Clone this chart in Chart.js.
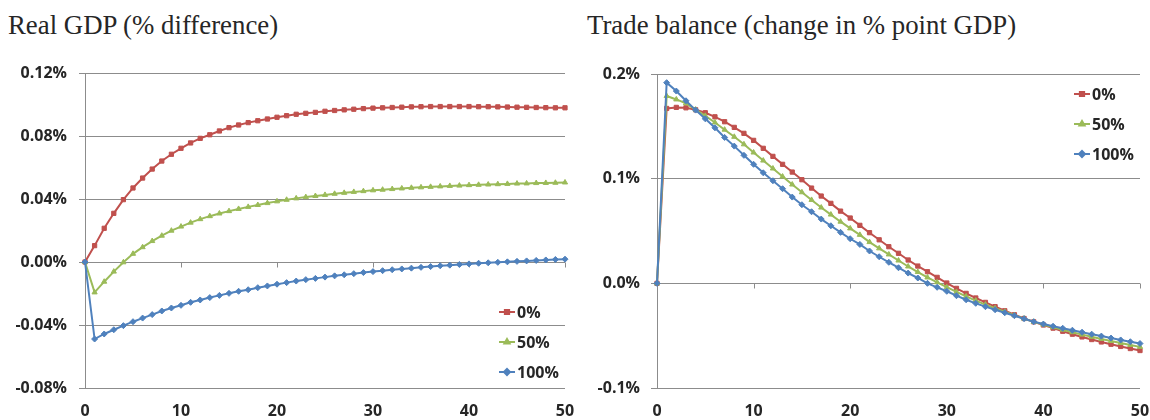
<!DOCTYPE html>
<html>
<head>
<meta charset="utf-8">
<script src="https://cdn.jsdelivr.net/npm/chart.js@4"></script>
<style>
  html, body { margin: 0; padding: 0; background: #fff; }
  body { width: 1150px; height: 420px; position: relative; overflow: hidden; }
  .title {
    position: absolute; top: 12px;
    font: 26.8px/27px "Liberation Serif", "Times New Roman", serif;
    color: #262626; white-space: nowrap;
  }
  canvas { position: absolute; top: 55px; }
</style>
</head>
<body>
<div class="title" style="left:8px">Real GDP (% difference)</div>
<div class="title" style="left:587px">Trade balance (change in % point GDP)</div>
<canvas id="gdp-chart" width="575" height="365" style="left:0"></canvas>
<canvas id="trade-chart" width="575" height="365" style="left:575px"></canvas>
<script>
/* ── Data ── */
const PERIODS = [0, 1, 2, 3, 4, 5, 6, 7, 8, 9, 10, 11, 12, 13, 14, 15, 16, 17, 18, 19, 20,
  21, 22, 23, 24, 25, 26, 27, 28, 29, 30, 31, 32, 33, 34, 35, 36, 37, 38, 39, 40,
  41, 42, 43, 44, 45, 46, 47, 48, 49, 50];
const SERIES = ['0%', '50%', '100%'];

const GDP_0 = [0, 0.0104, 0.0214, 0.0309, 0.0396, 0.047, 0.0533, 0.059, 0.0641, 0.0684, 0.0722,
  0.0756, 0.0785, 0.0808, 0.0832, 0.0853, 0.087, 0.0885, 0.0897, 0.0908, 0.0919,
  0.0929, 0.0938, 0.0944, 0.095, 0.0957, 0.0962, 0.0966, 0.097, 0.0974, 0.0977,
  0.0979, 0.0981, 0.0983, 0.0985, 0.0986, 0.0987, 0.0987, 0.0987, 0.0987, 0.0987,
  0.0986, 0.0986, 0.0985, 0.0984, 0.0983, 0.0982, 0.0981, 0.098, 0.0979, 0.0979];
const GDP_50 = [0, -0.0193, -0.0125, -0.0061, -0.0002, 0.0052, 0.0094, 0.0133, 0.0167, 0.0199, 0.0225,
  0.025, 0.0272, 0.0291, 0.0308, 0.0323, 0.0337, 0.035, 0.0362, 0.0374, 0.0385,
  0.0395, 0.0404, 0.0412, 0.0419, 0.0426, 0.0433, 0.0439, 0.0445, 0.045, 0.0455,
  0.0459, 0.0463, 0.0467, 0.0471, 0.0474, 0.0477, 0.048, 0.0483, 0.0485, 0.0488,
  0.049, 0.0492, 0.0494, 0.0496, 0.0498, 0.0499, 0.0501, 0.0502, 0.0503, 0.0505];
const GDP_100 = [0, -0.0489, -0.0457, -0.043, -0.0404, -0.0379, -0.0356, -0.0334, -0.0311, -0.0292, -0.0275,
  -0.0256, -0.0241, -0.0226, -0.0212, -0.0199, -0.0186, -0.0176, -0.0163, -0.0152, -0.0141,
  -0.0131, -0.0121, -0.0112, -0.0104, -0.0096, -0.0088, -0.0081, -0.0074, -0.0067, -0.0061,
  -0.0055, -0.0049, -0.0044, -0.0039, -0.0034, -0.0029, -0.0024, -0.002, -0.0016, -0.0012,
  -0.0008, -0.0005, -0.0002, 0.0001, 0.0004, 0.0007, 0.001, 0.0013, 0.0016, 0.0018];

const TB_0 = [0, 0.1671, 0.1681, 0.1677, 0.1658, 0.163, 0.1591, 0.1544, 0.149, 0.1433, 0.1366,
  0.129, 0.1213, 0.1137, 0.1063, 0.099, 0.091, 0.0834, 0.0764, 0.069, 0.0624,
  0.0554, 0.0484, 0.0416, 0.035, 0.0287, 0.0223, 0.0165, 0.0111, 0.0057, 0.0003,
  -0.0048, -0.0096, -0.014, -0.0182, -0.0223, -0.0262, -0.03, -0.0336, -0.0368, -0.0398,
  -0.0428, -0.0458, -0.0486, -0.0512, -0.0537, -0.056, -0.0582, -0.0603, -0.0623, -0.0642];
const TB_50 = [0, 0.179, 0.1757, 0.172, 0.166, 0.16, 0.1537, 0.1468, 0.14, 0.1328, 0.125,
  0.1173, 0.1097, 0.102, 0.0944, 0.087, 0.0797, 0.0724, 0.0657, 0.0589, 0.0525,
  0.0463, 0.0394, 0.0334, 0.0276, 0.0218, 0.0161, 0.0108, 0.0056, 0.001, -0.0037,
  -0.0082, -0.0125, -0.0165, -0.0203, -0.0238, -0.0272, -0.0305, -0.0337, -0.0368, -0.0394,
  -0.0419, -0.0443, -0.0467, -0.049, -0.0511, -0.0531, -0.0551, -0.057, -0.0589, -0.0607];
const TB_100 = [0, 0.1917, 0.1837, 0.1744, 0.1655, 0.1572, 0.1486, 0.1394, 0.1311, 0.1223, 0.1137,
  0.1056, 0.098, 0.0904, 0.0824, 0.0751, 0.0684, 0.0614, 0.055, 0.0487, 0.0426,
  0.0372, 0.0309, 0.0254, 0.0201, 0.0149, 0.0098, 0.0051, 0.0, -0.0038, -0.0076,
  -0.0118, -0.0157, -0.0191, -0.0223, -0.0252, -0.0281, -0.0309, -0.0338, -0.0367, -0.0389,
  -0.041, -0.0429, -0.0448, -0.0467, -0.0486, -0.0504, -0.0523, -0.0541, -0.0558, -0.0575];

/* ── Constants ── */
const COLORS = ['#C0504D', '#9BBB59', '#4F81BD'];
const MARKERS = ['rect', 'triangle', 'rectRot'];
const GRID = '#8c8c8c';
const TEXT = '#262626';
const FONT_FAMILY = '"Open Sans", "Liberation Sans", sans-serif';
const TICK_FONT = { family: FONT_FAMILY, size: 16, weight: 'bold' };

/* ── Tick marks on the zero line + legend inside plot ── */
const zeroTicks = {
  id: 'zeroTicks',
  beforeDatasetsDraw(chart) {
    const { ctx, scales: { x, y } } = chart;
    const y0 = Math.round(y.getPixelForValue(0)) + 0.5;
    ctx.save();
    ctx.strokeStyle = GRID;
    ctx.lineWidth = 1;
    ctx.beginPath();
    for (let i = 10; i <= 50; i += 10) {
      const px = Math.round(x.getPixelForValue(i)) + 0.5;
      ctx.moveTo(px, y0);
      ctx.lineTo(px, y0 + 5);
    }
    ctx.stroke();
    ctx.restore();
  },
};

const boxLegend = {
  id: 'boxLegend',
  afterDraw(chart, args, opts) {
    const { ctx } = chart;
    chart.data.datasets.forEach((ds, i) => {
      const yy = opts.y + i * opts.dy;
      ctx.save();
      ctx.strokeStyle = ds.borderColor;
      ctx.lineWidth = 2;
      ctx.beginPath();
      ctx.moveTo(opts.x, yy);
      ctx.lineTo(opts.x + 16, yy);
      ctx.stroke();
      Chart.helpers.drawPoint(ctx, {
        pointStyle: ds.pointStyle, radius: 3, borderWidth: 1,
      }, opts.x + 8, yy);
      ctx.fillStyle = ds.borderColor;
      ctx.fill();
      ctx.fillStyle = TEXT;
      ctx.font = 'bold 16px ' + FONT_FAMILY;
      ctx.textBaseline = 'middle';
      ctx.textAlign = 'left';
      ctx.fillText(ds.label, opts.x + 18, yy + 1);
      ctx.restore();
    });
  },
};

function makeDatasets(values) {
  return values.map((data, i) => ({
    label: SERIES[i],
    data,
    borderColor: COLORS[i],
    backgroundColor: COLORS[i],
    borderWidth: 2,
    pointStyle: MARKERS[i],
    pointRadius: 3,
    pointBorderWidth: 1,
    tension: 0,
    order: 2 - i,
  }));
}

function drawChart(id, values, yOpts, axisWidth, top, legendPos) {
  new Chart(document.getElementById(id), {
    type: 'line',
    plugins: [zeroTicks, boxLegend],
    data: { labels: PERIODS, datasets: makeDatasets(values) },
    options: {
      responsive: false,
      animation: false,
      devicePixelRatio: 1,
      layout: { padding: { top, right: 10, bottom: 0, left: 0 } },
      plugins: {
        legend: { display: false },
        tooltip: { enabled: false },
        boxLegend: legendPos,
      },
      scales: {
        x: {
          type: 'category',
          offset: false,
          grid: { display: false, drawTicks: false },
          border: { display: false },
          ticks: {
            autoSkip: false, maxRotation: 0, padding: 14,
            color: TEXT, font: TICK_FONT,
            callback: (v, i) => (i % 10 === 0 ? String(PERIODS[i]) : null),
          },
          afterFit: s => { s.height = 32; s.paddingLeft = 0; s.paddingRight = 0; },
        },
        y: {
          min: yOpts.min, max: yOpts.max,
          grid: { color: GRID, tickLength: 6, lineWidth: 1 },
          border: { display: true, color: GRID },
          ticks: {
            stepSize: yOpts.step, padding: yOpts.pad,
            color: TEXT, font: TICK_FONT,
            callback: v => (Math.abs(v) < 1e-9 ? 0 : v).toFixed(yOpts.dec) + '%',
          },
          afterFit: s => { s.width = axisWidth; s.paddingTop = 0; s.paddingBottom = 0; },
        },
      },
    },
  });
}

/* ── Draw both ── */
drawChart('gdp-chart', [GDP_0, GDP_50, GDP_100],
  { min: -0.08, max: 0.12, step: 0.04, dec: 2, pad: 12 }, 85, 18,
  { x: 499, y: 257, dy: 30 });
drawChart('trade-chart', [TB_0, TB_50, TB_100],
  { min: -0.1, max: 0.2, step: 0.1, dec: 1, pad: 11 }, 82, 19,
  { x: 499, y: 39, dy: 30 });
</script>
</body>
</html>
